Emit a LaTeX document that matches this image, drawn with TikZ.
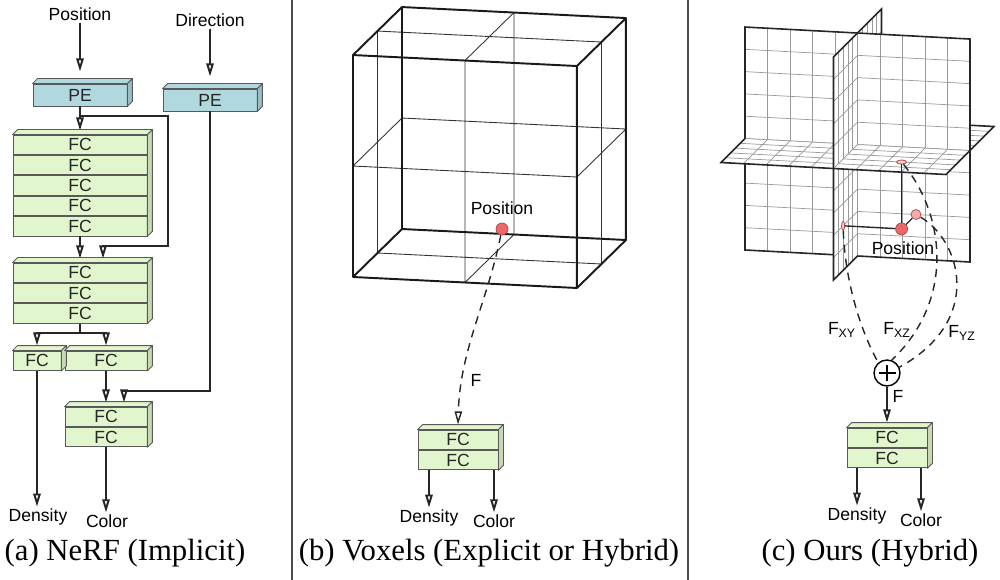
\documentclass[tikz,border=0pt]{standalone}
\usepackage{fontspec}
\setmainfont{Liberation Serif}
\setsansfont{Liberation Sans}
\usepackage{tikz}
\usetikzlibrary{arrows.meta,positioning,calc,shapes.geometric}

\definecolor{fcgreen}{RGB}{226,246,205}
\definecolor{pecyan}{RGB}{176,216,222}
\definecolor{dotred}{RGB}{236,104,104}

\tikzset{lbl/.style={font=\sffamily\fontsize{10}{12}\selectfont, inner sep=1pt}}
\tikzset{captext/.style={font=\fontsize{17.5}{21}\selectfont, inner sep=0pt}}
\tikzset{layer/.style={draw=black!65, line width=0.5pt, fill=fcgreen, inner sep=0pt,
    minimum height=0.39cm, font=\sffamily\fontsize{10}{12}\selectfont, text=black!85}}
\tikzset{pebox/.style={layer, fill=pecyan, minimum width=1.88cm, minimum height=0.44cm}}
\tikzset{face/.style={draw=black!65, line width=0.5pt, line join=round}}
\tikzset{arr/.style={-{Triangle[open,length=7.5pt,width=4.2pt]}, line width=1.1pt, black!85}}
\tikzset{conn/.style={line width=1.1pt, black!85}}
\tikzset{dashcurve/.style={dash pattern=on 4.5pt off 3.5pt, line width=0.8pt, black!85}}
\tikzset{divider/.style={line width=0.7pt, black!70}}
\tikzset{thinline/.style={line width=0.5pt, black!80}}
\tikzset{cubeedge/.style={line width=1.1pt, black!90, line join=round}}
\tikzset{grid/.style={line width=0.4pt, black!40}}
\tikzset{planeedge/.style={line width=0.9pt, black!85, line cap=round}}
\tikzset{probe/.style={line width=0.8pt, black!85}}
\tikzset{reddot/.style={circle, fill=dotred, draw=dotred!70!black, line width=0.4pt,
    minimum size=0.24cm, inner sep=0pt}}
\tikzset{ghostdot/.style={reddot, fill=dotred!55, minimum size=0.2cm}}
\tikzset{projmark/.style={ellipse, draw=dotred!80!black, fill=dotred!30, line width=0.5pt, inner sep=0pt}}
\tikzset{sumnode/.style={circle, draw, line width=0.8pt, minimum size=0.52cm, inner sep=0pt,
    path picture={\draw[line width=0.7pt] ([xshift=-0.17cm]path picture bounding box.center) -- ([xshift=0.17cm]path picture bounding box.center)
      ([yshift=-0.17cm]path picture bounding box.center) -- ([yshift=0.17cm]path picture bounding box.center);}}}

% top and side face of a stack of layers
\newcommand{\slabfaces}[3]{%
  \filldraw[face, fill=#3] (#1.north west) -- ++(5,-5) -- ([shift={(5,-5)}]#1.north east) -- (#1.north east) -- cycle;
  \filldraw[face, fill=#3!88!black] (#1.north east) -- ([shift={(5,-5)}]#1.north east) -- ([shift={(5,-5)}]#2.south east) -- (#2.south east) -- cycle;}

% quarter planes: fill, grid, outer edge
\newcommand{\xypc}[5]{%
  \fill[white] (#1,#3,0) -- (#2,#3,0) -- (#2,#4,0) -- (#1,#4,0) -- cycle;
  \foreach \i in {#1,...,#2} {\draw[grid] (\i,#3,0) -- (\i,#4,0);}
  \foreach \j in {#3,...,#4} {\draw[grid] (#1,\j,0) -- (#2,\j,0);}
  \draw[planeedge] #5;}
\newcommand{\xzpc}[5]{%
  \fill[white] (#1,5,#3) -- (#2,5,#3) -- (#2,5,#4) -- (#1,5,#4) -- cycle;
  \foreach \i in {#1,...,#2} {\draw[grid] (\i,5,#3) -- (\i,5,#4);}
  \foreach \k in {#3,...,#4} {\draw[grid] (#1,5,\k) -- (#2,5,\k);}
  \draw[planeedge] #5;}
\newcommand{\yzpc}[5]{%
  \fill[white] (5,#1,#3) -- (5,#2,#3) -- (5,#2,#4) -- (5,#1,#4) -- cycle;
  \foreach \j in {#1,...,#2} {\draw[grid] (5,\j,#3) -- (5,\j,#4);}
  \foreach \k in {#3,...,#4} {\draw[grid] (5,#1,\k) -- (5,#2,\k);}
  \draw[planeedge] #5;}

\begin{document}
\begin{tikzpicture}[x=0.02cm, y=-0.02cm]
\useasboundingbox (0,0) rectangle (1000,580);

\draw[divider] (292,0) -- (292,580);
\draw[divider] (688,0) -- (688,580);

% (a) NeRF
\node[lbl] (pos1) at (80,14) {Position};
\node[lbl] (dir) at (210,20) {Direction};
\node[pebox] (pe1) at (80,95) {PE};
\node[pebox] (pe2) at (210,100) {PE};
\slabfaces{pe1}{pe1}{pecyan}
\slabfaces{pe2}{pe2}{pecyan}

\node[layer, minimum width=2.68cm] (fa1) at (80,144.75) {FC};
\foreach \i [count=\j from 2] in {1,...,4}
  \node[layer, minimum width=2.68cm, below=0pt of fa\i] (fa\j) {FC};
\slabfaces{fa1}{fa5}{fcgreen}

\node[layer, minimum width=2.68cm] (fb1) at (80,272.75) {FC};
\foreach \i [count=\j from 2] in {1,2}
  \node[layer, minimum width=2.68cm, below=0pt of fb\i] (fb\j) {FC};
\slabfaces{fb1}{fb3}{fcgreen}

\node[layer, minimum width=0.96cm] (fl) at (37,360.75) {FC};
\node[layer, minimum width=1.64cm] (fr) at (106,360.75) {FC};
\slabfaces{fl}{fl}{fcgreen}
\slabfaces{fr}{fr}{fcgreen}

\node[layer, minimum width=1.64cm] (fc1) at (106,416.75) {FC};
\node[layer, minimum width=1.64cm, below=0pt of fc1] (fc2) {FC};
\slabfaces{fc1}{fc2}{fcgreen}

\node[lbl] (dens1) at (38,517) {Density};
\node[lbl] (col1) at (107,521) {Color};

\draw[arr] (pos1) -- ([yshift=0.24cm]pe1.north);
\draw[arr] (dir) -- ([yshift=0.24cm]pe2.north);
\coordinate (skip) at ($(pe1.south)+(0,10)$);
\draw[arr] (pe1.south) -- ([yshift=0.08cm]fa1.north);
\draw[arr] (skip) -| ($(fb1.north)+(88,-17)$) -| ($(fb1.north)+(23,-4)$);
\draw[arr] (fa5.south) -- ([yshift=0.08cm]fb1.north);
\coordinate (split) at ($(fb3.south)+(0,9)$);
\draw[conn] (fb3.south) -- (split);
\draw[arr] (split) -| ([yshift=0.1cm]fl.north);
\draw[arr] (split) -| ([yshift=0.1cm]fr.north);
\draw[arr] (fr.south) -- ([yshift=0.08cm]fc1.north);
\draw[arr] (pe2.south) |- ($(fc1.north)+(18,-16)$) -- ($(fc1.north)+(18,-4)$);
\draw[arr] (fl.south) -- (fl.south |- dens1.north);
\draw[arr] (fc2.south) -- (fc2.south |- col1.north);

% (b) Voxels
\begin{scope}[shift={(353,277)}, x={(4.48cm,-0.22cm)}, y={(0cm,4.44cm)}, z={(0.98cm,0.96cm)}]
  \foreach \s in {0,1} {
    \draw[thinline] (0.5,0,\s) -- (0.5,1,\s) (0,0.5,\s) -- (1,0.5,\s)
                    (\s,0,0.5) -- (\s,1,0.5) (\s,0.5,0) -- (\s,0.5,1)
                    (0.5,\s,0) -- (0.5,\s,1) (0,\s,0.5) -- (1,\s,0.5);
  }
  \draw[cubeedge] (0,0,0) -- (1,0,0) -- (1,1,0) -- (0,1,0) -- cycle
    (0,0,1) -- (1,0,1) -- (1,1,1) -- (0,1,1) -- cycle
    (0,0,0) -- (0,0,1) (1,0,0) -- (1,0,1) (1,1,0) -- (1,1,1) (0,1,0) -- (0,1,1);
\end{scope}
\node[reddot] (p2) at (502,229) {};
\node[lbl] (pos2) at (502,208) {Position};

\node[layer, minimum width=1.6cm] (fcb1) at (458,439.75) {FC};
\node[layer, minimum width=1.6cm, below=0pt of fcb1] (fcb2) {FC};
\slabfaces{fcb1}{fcb2}{fcgreen}
\node[lbl] (fb) at (476,380) {F};
\node[lbl] (dens2) at (429,518) {Density};
\node[lbl] (col2) at (494,521) {Color};

\draw[arr, dash pattern=on 4.5pt off 3.5pt, line width=0.8pt] (p2) .. controls (488,300) and (460,350) .. ([yshift=0.1cm]fcb1.north);
\draw[arr] (fcb2.south -| dens2) -- (dens2.north);
\draw[arr] (fcb2.south -| col2) -- (col2.north);

% (c) Ours
\begin{scope}[shift={(745,250)}, x={(0.45cm,-0.024cm)}, y={(0cm,0.446cm)}, z={(0.096cm,0.096cm)}]
  % far pieces
  \xypc{0}{5}{0}{5}{(5,0,0) -- (0,0,0) -- (0,5,0)}
  \yzpc{0}{5}{0}{5}{(5,0,0) -- (5,0,5) -- (5,5,5)}
  \xzpc{0}{5}{0}{5}{(0,5,0) -- (0,5,5) -- (5,5,5)}
  % middle pieces
  \xypc{0}{5}{5}{10}{(0,5,0) -- (0,10,0) -- (5,10,0)}
  \yzpc{5}{10}{0}{5}{(5,5,5) -- (5,10,5) -- (5,10,0)}
  \xzpc{0}{5}{-5}{0}{(0,5,0) -- (0,5,-5) -- (5,5,-5)}
  \xzpc{5}{10}{0}{5}{(5,5,5) -- (10,5,5) -- (10,5,0)}
  \xypc{5}{10}{0}{5}{(5,0,0) -- (10,0,0) -- (10,5,0)}
  \yzpc{0}{5}{-5}{0}{(5,0,0) -- (5,0,-5) -- (5,5,-5)}
  % near pieces
  \xypc{5}{10}{5}{10}{(5,10,0) -- (10,10,0) -- (10,5,0)}
  \yzpc{5}{10}{-5}{0}{(5,5,-5) -- (5,10,-5) -- (5,10,0)}
  \xzpc{5}{10}{-5}{0}{(5,5,-5) -- (10,5,-5) -- (10,5,0)}

  \node[ghostdot] (pxy) at (7.6,2,0) {};
  \node[projmark, minimum width=0.2cm, minimum height=0.08cm] (pxz) at (7.6,5,-3) {};
  \node[projmark, minimum width=0.06cm, minimum height=0.18cm] (pyz) at (5,2,-3) {};
  \node[reddot] (pc) at (7.6,2,-3) {};
  \draw[probe] (pc) -- (pxz);
  \draw[probe] (pc) -- (pyz);
  \draw[probe] (pc) -- (pxy);
\end{scope}
\node[lbl] (pos3) at (903,248) {Position};

\node[sumnode] (sum) at (887,373) {};
\draw[dashcurve] (pyz) .. controls (845,280) and (860,330) .. (sum.130);
\draw[dashcurve] (pxz) .. controls (945,215) and (955,300) .. (sum.70);
\draw[dashcurve] (pxy) .. controls (960,240) and (985,320) .. (sum.25);
\node[lbl] (fxy) at (842,330) {F\textsubscript{XY}};
\node[lbl] (fxz) at (897,330) {F\textsubscript{XZ}};
\node[lbl] (fyz) at (962,333) {F\textsubscript{YZ}};
\node[lbl] (fsum) at (898,396) {F};

\node[layer, minimum width=1.6cm] (fcc1) at (887,437.75) {FC};
\node[layer, minimum width=1.6cm, below=0pt of fcc1] (fcc2) {FC};
\slabfaces{fcc1}{fcc2}{fcgreen}
\node[lbl] (dens3) at (857,516) {Density};
\node[lbl] (col3) at (921,520) {Color};

\draw[arr] (sum) -- ([yshift=0.1cm]fcc1.north);
\draw[arr] (fcc2.south -| dens3) -- (dens3.north);
\draw[arr] (fcc2.south -| col3) -- (col3.north);

% captions
\node[captext] (capa) at (125,553) {(a) NeRF (Implicit)};
\node[captext] (capb) at (489,553) {(b) Voxels (Explicit or Hybrid)};
\node[captext] (capc) at (870,553) {(c) Ours (Hybrid)};
\end{tikzpicture}
\end{document}
